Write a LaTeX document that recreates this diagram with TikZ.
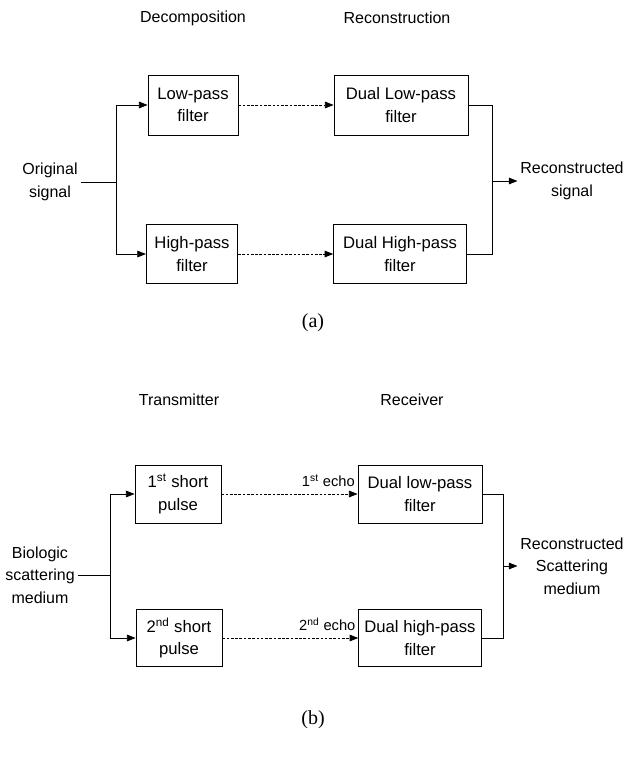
\documentclass[tikz,border=0pt]{standalone}
\usepackage{fontspec}
\setmainfont{Liberation Sans}
\newfontfamily\capfont{Liberation Serif}
\usetikzlibrary{arrows.meta}

\tikzset{
  filterbox/.style={draw, line width=0.6pt, align=center, inner sep=2pt, font=\fontsize{12.5}{17}\selectfont},
  plaintext/.style={align=center, inner sep=2pt, font=\fontsize{12}{17}\selectfont},
  echotext/.style={inner sep=2pt, font=\fontsize{11}{13}\selectfont},
  link/.style={line width=0.6pt},
  arr/.style={-{Triangle[length=6.5pt,width=5pt]}},
  dots/.style={link, dash pattern=on 2pt off 1.2pt}
}

\begin{document}
\begin{tikzpicture}[x=0.75pt,y=-0.75pt]
  \useasboundingbox (0,0) rectangle (627,758);

  % Part (a): filter bank
  \node[plaintext] (decomp) at (193,18) {Decomposition};
  \node[plaintext] (recons) at (397,18) {Reconstruction};

  \node[filterbox, minimum width=67.5pt, minimum height=45pt] (lowpass) at (193,105) {Low-pass\\filter};
  \node[filterbox, minimum width=68.5pt, minimum height=44.5pt] (highpass) at (192,254) {High-pass\\filter};
  \node[filterbox, minimum width=100.5pt, minimum height=45pt] (duallow) at (401,105) {Dual Low-pass\\filter};
  \node[filterbox, minimum width=99.5pt, minimum height=44.5pt] (dualhigh) at (400,254) {Dual High-pass\\filter};

  \node[plaintext] (orig) at (50,182) {Original\\signal};
  \node[plaintext] (recsig) at (572,181) {Reconstructed\\signal};

  \coordinate (splitA) at (116,182);
  \coordinate (joinA) at (492,181);

  \draw[link] (orig) -- (splitA);
  \draw[link,arr] (splitA) |- (lowpass);
  \draw[link,arr] (splitA) |- (highpass);
  \draw[dots,arr] (lowpass) -- (duallow);
  \draw[dots,arr] (highpass) -- (dualhigh);
  \draw[link] (duallow) -| (joinA);
  \draw[link] (dualhigh) -| (joinA);
  \draw[link,arr] (joinA) -- (recsig);

  \node[font=\capfont\fontsize{15}{17}\selectfont] (capa) at (313,323) {(a)};

  % Part (b): pulse-echo imaging
  \node[plaintext] (transm) at (179,400) {Transmitter};
  \node[plaintext] (receiv) at (412,400) {Receiver};

  \node[filterbox, minimum width=64.5pt, minimum height=43.5pt] (pulseone) at (178,494) {1\textsuperscript{st} short\\pulse};
  \node[filterbox, minimum width=64.5pt, minimum height=43pt] (pulsetwo) at (179,638) {2\textsuperscript{nd} short\\pulse};
  \node[filterbox, minimum width=93pt, minimum height=43.5pt] (dualone) at (420,494) {Dual low-pass\\filter};
  \node[filterbox, minimum width=92pt, minimum height=43pt] (dualtwo) at (420,638) {Dual high-pass\\filter};

  \node[plaintext] (bio) at (40,575) {Biologic\\scattering\\medium};
  \node[plaintext] (recscat) at (572,566) {Reconstructed\\Scattering\\medium};

  \node[echotext, anchor=south east, yshift=3pt] (echoone) at (dualone.west) {1\textsuperscript{st} echo};
  \node[echotext, anchor=south east, yshift=3pt] (echotwo) at (dualtwo.west) {2\textsuperscript{nd} echo};

  \coordinate (splitB) at (110,575);
  \coordinate (joinB) at (503,566);

  \draw[link] (bio) -- (splitB);
  \draw[link,arr] (splitB) |- (pulseone);
  \draw[link,arr] (splitB) |- (pulsetwo);
  \draw[dots,arr] (pulseone) -- (dualone);
  \draw[dots,arr] (pulsetwo) -- (dualtwo);
  \draw[link] (dualone) -| (joinB);
  \draw[link] (dualtwo) -| (joinB);
  \draw[link,arr] (joinB) -- (recscat);

  \node[font=\capfont\fontsize{15}{17}\selectfont] (capb) at (313,720) {(b)};
\end{tikzpicture}
\end{document}
